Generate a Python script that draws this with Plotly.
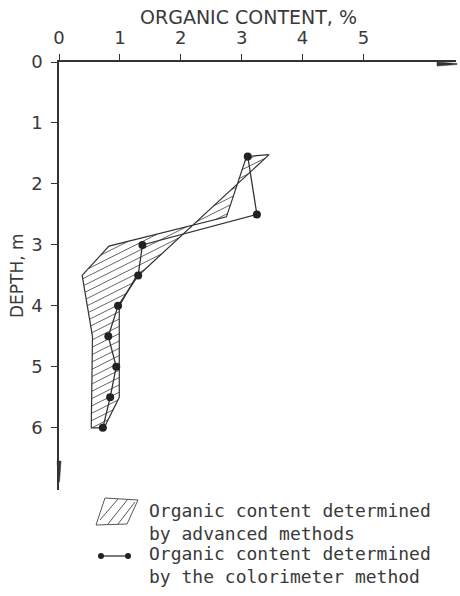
import plotly.graph_objects as go

# Colorimeter measurements: depth (m) and organic content (%)
color_depth = [1.55, 2.5, 3.0, 3.5, 4.0, 4.5, 5.0, 5.5, 6.0]
color_oc = [3.1, 3.25, 1.37, 1.3, 0.97, 0.81, 0.94, 0.84, 0.72]

# Outline of the range found by the advanced methods (closed polygon)
band_depth = [1.55, 2.54, 3.02, 3.5, 4.5, 6.0, 6.0, 5.5, 4.0, 3.55, 1.52, 1.55]
band_oc = [3.08, 2.75, 0.82, 0.38, 0.55, 0.53, 0.74, 0.99, 0.99, 1.25, 3.45, 3.08]

x_ticks = [0, 1, 2, 3, 4, 5]
y_ticks = [0, 1, 2, 3, 4, 5, 6]
x_title = "ORGANIC CONTENT, %"
y_title = "DEPTH, m"
legend_texts = [
    "Organic content determined<br>by advanced methods",
    "Organic content determined<br>by the colorimeter method",
]

W, H = 460, 596
ML, MR, MT, MB = 59, 4, 62, 106
X_RANGE = [0, 6.52]
Y_RANGE = [7.02, 0]
INK = "#333333"
TEXT = "#3a3a3a"
FONT = "DejaVu Sans"
LEGEND_FONT = "DejaVu Sans Mono"

HATCH_SLOPE = 0.5   # depth units per % (rising to the right)
HATCH_STEP = 0.12   # spacing of hatch lines along the depth axis


def px(x):
    return (x - ML) / (W - ML - MR)


def py(y):
    return (H - MB - y) / (H - MT - MB)


def hatch_segments(xs, ys, slope, step):
    """Clip the family of lines  y = c - slope * x  to the polygon (even-odd)."""
    hx, hy = [], []
    edges = list(zip(zip(xs[:-1], ys[:-1]), zip(xs[1:], ys[1:])))
    cvals = [y + slope * x for x, y in zip(xs, ys)]
    c = min(cvals) + step / 2
    while c < max(cvals):
        hits = []
        for (x0, y0), (x1, y1) in edges:
            f0 = y0 + slope * x0 - c
            f1 = y1 + slope * x1 - c
            if (f0 < 0) != (f1 < 0):
                t = f0 / (f0 - f1)
                hits.append(x0 + t * (x1 - x0))
        hits.sort()
        for a, b in zip(hits[0::2], hits[1::2]):
            hx += [a, b, None]
            hy += [c - slope * a, c - slope * b, None]
        c += step
    return hx, hy


fig = go.Figure()

hx, hy = hatch_segments(band_oc, band_depth, HATCH_SLOPE, HATCH_STEP)
fig.add_trace(go.Scatter(
    x=hx, y=hy, mode="lines", line=dict(color="#555555", width=0.9),
    hoverinfo="skip", showlegend=False,
))
fig.add_trace(go.Scatter(
    x=band_oc, y=band_depth, mode="lines",
    line=dict(color=INK, width=1.2),
    hoverinfo="skip", showlegend=False,
))
fig.add_trace(go.Scatter(
    x=color_oc, y=color_depth, mode="lines+markers",
    line=dict(color=INK, width=1.3),
    marker=dict(color="#222222", size=8),
    showlegend=False,
))

axis_common = dict(
    showline=True, linecolor=INK, linewidth=1.5,
    ticks="outside", ticklen=6, tickwidth=1.2, tickcolor=INK,
    showgrid=False, zeroline=False,
    tickfont=dict(family=FONT, size=18, color=TEXT),
)

fig.update_layout(
    width=W, height=H,
    margin=dict(l=ML, r=MR, t=MT, b=MB),
    paper_bgcolor="white", plot_bgcolor="white",
    xaxis=dict(range=X_RANGE, side="top", tickvals=x_ticks,
               ticklabelstandoff=3, **axis_common),
    yaxis=dict(range=Y_RANGE, tickvals=y_ticks,
               ticklabelstandoff=5, **axis_common),
)

ann = []
ann.append(dict(text=x_title, xref="paper", yref="paper", x=px(248), y=py(17),
                xanchor="center", yanchor="middle", showarrow=False,
                font=dict(family=FONT, size=19, color=TEXT)))
ann.append(dict(text=y_title, xref="paper", yref="paper", x=px(17), y=py(276),
                xanchor="center", yanchor="middle", showarrow=False, textangle=-90,
                font=dict(family=FONT, size=17, color=TEXT)))
for txt, yc in zip(legend_texts, [522, 565]):
    ann.append(dict(text=txt, xref="paper", yref="paper", x=px(147), y=py(yc),
                    xanchor="left", yanchor="middle", align="left", showarrow=False,
                    font=dict(family=LEGEND_FONT, size=18, color=TEXT)))
fig.update_layout(annotations=ann)

shapes = []
# arrowheads at the ends of the axes
shapes.append(dict(type="path", xref="paper", yref="paper",
                   path=f"M {px(437)},{py(62)} L {px(457)},{py(63.5)} L {px(457)},{py(64.5)} L {px(437)},{py(66)} Z",
                   fillcolor=INK, line=dict(color=INK, width=0.5)))
shapes.append(dict(type="path", xref="paper", yref="paper",
                   path=f"M {px(57)},{py(461)} L {px(58.5)},{py(482)} L {px(59.5)},{py(482)} L {px(61)},{py(461)} Z",
                   fillcolor=INK, line=dict(color=INK, width=0.5)))
# legend sample: hatched area
icon = (f"M {px(105)},{py(498)} L {px(138)},{py(500)} L {px(127)},{py(524)} L {px(96)},{py(525)} Z "
        f"M {px(100)},{py(520)} L {px(118)},{py(499)} "
        f"M {px(108)},{py(524)} L {px(128)},{py(499)} "
        f"M {px(118)},{py(524)} L {px(135)},{py(502)}")
shapes.append(dict(type="path", xref="paper", yref="paper", path=icon,
                   line=dict(color="#555555", width=1)))
# legend sample: line with dots
shapes.append(dict(type="line", xref="paper", yref="paper",
                   x0=px(101), y0=py(556), x1=px(128), y1=py(556),
                   line=dict(color=INK, width=1.3)))
for cx in (101, 128):
    shapes.append(dict(type="circle", xref="paper", yref="paper",
                       x0=px(cx - 3), y0=py(556 - 3), x1=px(cx + 3), y1=py(556 + 3),
                       fillcolor="#222222", line=dict(color="#222222", width=0)))
fig.update_layout(shapes=shapes)

fig.write_html("out.html")
